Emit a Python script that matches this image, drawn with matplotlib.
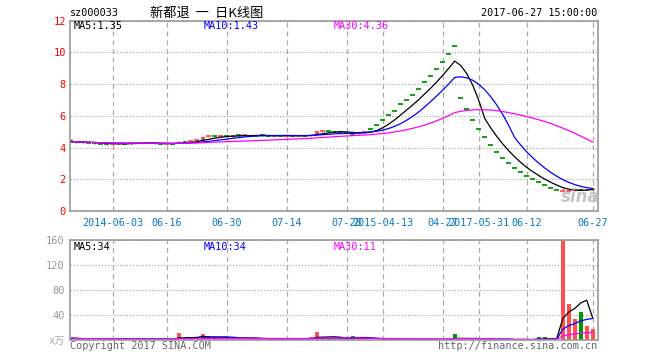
import matplotlib
matplotlib.use('Agg')
import matplotlib.pyplot as plt
import pandas as pd

plt.rcParams['font.family'] = ['DejaVu Sans Mono', 'Noto Sans CJK SC']

# daily bars of sz000033, oldest first (suspended days skipped)
opens = [4.50, 4.34, 4.36, 4.33, 4.30, 4.28, 4.26, 4.22, 4.23, 4.26,
         4.24, 4.30, 4.28, 4.30, 4.29, 4.27, 4.22, 4.26, 4.28, 4.40,
         4.38, 4.44, 4.50, 4.68, 4.74, 4.70, 4.74, 4.64, 4.80, 4.75,
         4.78, 4.74, 4.80, 4.76, 4.75, 4.76, 4.75, 4.76, 4.74, 4.76,
         4.74, 4.84, 5.02, 5.04, 5.02, 4.98, 4.96, 4.92, 4.88, 4.92,
         5.17, 5.44, 5.76, 6.05, 6.32, 6.72, 7.02, 7.33, 7.71, 8.15,
         8.54, 8.96, 9.42, 9.92, 10.43, 7.14, 6.43, 5.76, 5.17, 4.69,
         4.17, 3.75, 3.37, 3.03, 2.74, 2.43, 2.18, 2.03, 1.80, 1.61,
         1.44, 1.30, 1.20, 1.24, 1.30, 1.38, 1.34, 1.36]
highs = [4.52, 4.42, 4.38, 4.36, 4.32, 4.30, 4.28, 4.30, 4.30, 4.28,
         4.30, 4.36, 4.34, 4.32, 4.31, 4.29, 4.28, 4.28, 4.40, 4.42,
         4.48, 4.52, 4.70, 4.78, 4.76, 4.74, 4.76, 4.82, 4.86, 4.80,
         4.80, 4.78, 4.81, 4.78, 4.77, 4.78, 4.78, 4.78, 4.77, 4.78,
         4.86, 5.05, 5.10, 5.06, 5.04, 5.00, 4.98, 4.94, 4.98, 5.02,
         5.17, 5.44, 5.76, 6.05, 6.32, 6.72, 7.02, 7.33, 7.71, 8.15,
         8.54, 8.96, 9.42, 9.92, 10.43, 7.14, 6.43, 5.76, 5.17, 4.69,
         4.17, 3.75, 3.37, 3.03, 2.74, 2.43, 2.18, 2.03, 1.80, 1.61,
         1.44, 1.30, 1.44, 1.36, 1.42, 1.44, 1.44, 1.42]
lows = [4.33, 4.30, 4.30, 4.26, 4.24, 4.22, 4.19, 4.18, 4.20, 4.22,
        4.22, 4.26, 4.26, 4.26, 4.25, 4.20, 4.20, 4.20, 4.26, 4.32,
        4.36, 4.42, 4.48, 4.64, 4.66, 4.66, 4.68, 4.62, 4.72, 4.72,
        4.73, 4.72, 4.76, 4.72, 4.72, 4.73, 4.72, 4.73, 4.72, 4.73,
        4.72, 4.82, 4.98, 4.96, 4.96, 4.94, 4.90, 4.86, 4.86, 4.90,
        5.17, 5.44, 5.76, 6.05, 6.32, 6.72, 7.02, 7.33, 7.71, 8.15,
        8.54, 8.96, 9.42, 9.92, 10.43, 7.14, 6.43, 5.76, 5.17, 4.69,
        4.17, 3.75, 3.37, 3.03, 2.74, 2.43, 2.18, 2.03, 1.80, 1.61,
        1.44, 1.30, 1.17, 1.22, 1.26, 1.30, 1.32, 1.33]
closes = [4.36, 4.36, 4.33, 4.28, 4.27, 4.25, 4.22, 4.24, 4.25, 4.24,
          4.27, 4.28, 4.30, 4.29, 4.27, 4.22, 4.25, 4.23, 4.38, 4.34,
          4.42, 4.46, 4.67, 4.70, 4.71, 4.72, 4.70, 4.77, 4.77, 4.78,
          4.75, 4.76, 4.77, 4.75, 4.76, 4.75, 4.76, 4.74, 4.76, 4.75,
          4.80, 5.02, 5.04, 5.02, 4.98, 4.96, 4.92, 4.88, 4.92, 4.96,
          5.17, 5.44, 5.76, 6.05, 6.32, 6.72, 7.02, 7.33, 7.71, 8.15,
          8.54, 8.96, 9.42, 9.92, 10.43, 7.14, 6.43, 5.76, 5.17, 4.69,
          4.17, 3.75, 3.37, 3.03, 2.74, 2.43, 2.18, 2.03, 1.80, 1.61,
          1.44, 1.30, 1.24, 1.28, 1.34, 1.33, 1.40, 1.38]
# volume in units of 10k shares (x万)
volumes = [3.0, 2.0, 1.5, 2.0, 1.5, 1.5, 2.0, 1.5, 1.5, 1.0,
           1.5, 2.0, 1.5, 1.0, 1.0, 1.5, 1.0, 1.5, 11.0, 3.0,
           2.5, 2.5, 9.6, 7.0, 3.0, 2.0, 2.0, 3.0, 2.5, 1.5,
           1.5, 1.5, 2.0, 1.0, 1.0, 1.0, 1.0, 1.0, 1.0, 1.0,
           5.0, 12.8, 3.0, 2.5, 2.0, 2.0, 2.0, 6.0, 2.5, 2.5,
           0.8, 0.8, 0.8, 0.8, 0.8, 0.8, 0.8, 0.8, 0.8, 0.8,
           0.8, 0.8, 0.8, 0.8, 9.6, 0.8, 0.6, 0.6, 0.6, 0.6,
           0.6, 0.6, 0.6, 0.6, 0.6, 0.6, 0.6, 0.6, 4.3, 4.3,
           0.6, 0.6, 160.0, 57.6, 33.6, 44.8, 22.4, 17.0]

tick_idx = [7, 16, 26, 36, 46, 52, 62, 68, 76, 87]
tick_labels = ['2014-06-03', '06-16', '06-30', '07-14', '07-28',
               '2015-04-13', '04-27', '2017-05-31', '06-12', '06-27']
ma_windows = [5, 10, 30]
ma_colors = ['black', '#0000ff', '#ff00ff']
# last MA values as printed in the legends
price_ma_last = ['1.35', '1.43', '4.36']
vol_ma_last = ['34', '34', '11']

UP = '#ff5050'
DOWN = '#009900'
GRID = '#aaaaaa'

W, H = 660, 360


def px(x, y):
    """pixel position -> figure fraction"""
    return x / W, 1 - y / H


def style_axes(ax):
    for s in ax.spines.values():
        s.set_color('#999999')
        s.set_linewidth(1.2)
    ax.set_xlim(-0.12, len(closes) - 0.12)
    ax.set_xticks(tick_idx)
    ax.grid(axis='x', color=GRID, linestyle=(0, (4, 3)), linewidth=0.9)
    ax.grid(axis='y', color=GRID, linestyle=(0, (1, 1.5)), linewidth=0.9)
    ax.tick_params(length=0)
    ax.set_axisbelow(True)


fig = plt.figure(figsize=(6.6, 3.6), dpi=100)
ax = fig.add_axes([70 / W, 1 - 211 / H, 528 / W, 190.3 / H])
axv = fig.add_axes([70 / W, 1 - 340 / H, 528 / W, 100 / H])

df = pd.DataFrame({'open': opens, 'high': highs, 'low': lows,
                   'close': closes, 'vol': volumes})
colors = [UP if c > o else DOWN for o, c in zip(opens, closes)]

# candles
style_axes(ax)
ax.set_ylim(0, 12)
ax.set_yticks(range(0, 13, 2))
ax.tick_params(axis='y', labelcolor='red', labelsize=7.5, pad=3)
ax.set_xticklabels(tick_labels, color='#0a78c8', fontsize=7.3)
ax.tick_params(axis='x', pad=5)
ax.vlines(df.index, df['low'], df['high'], colors=colors, linewidth=0.9)
for i, r in df.iterrows():
    lo, hi = min(r['open'], r['close']), max(r['open'], r['close'])
    if hi - lo < 0.05:
        ax.hlines(r['close'], i - 0.38, i + 0.38, colors=colors[i], linewidth=1.3)
    else:
        ax.bar(i, hi - lo, bottom=lo, width=0.72, color=colors[i], linewidth=0)
for n, c in zip(ma_windows, ma_colors):
    ax.plot(df.index, df['close'].rolling(n, min_periods=1).mean(), color=c, linewidth=0.9)

# volume
style_axes(axv)
axv.set_ylim(0, 160)
axv.set_yticks([40, 80, 120, 160])
axv.tick_params(axis='y', labelcolor='#999999', labelsize=7.5, pad=4)
axv.set_xticklabels([])
axv.bar(df.index, df['vol'], width=0.72, color=colors, linewidth=0)
for n, c in zip(ma_windows, ma_colors):
    axv.plot(df.index, df['vol'].rolling(n, min_periods=1).mean(), color=c, linewidth=0.9)

# header texts
fig.text(*px(70, 13), 'sz000033', fontsize=7.3, va='center')
fig.text(*px(207, 13), '新都退  一  日K线图', fontsize=9.5, va='center', ha='center',
         family=['Noto Sans CJK SC', 'DejaVu Sans'])
fig.text(*px(597, 13), '2017-06-27 15:00:00', fontsize=7.3, va='center', ha='right')

# MA legends in both panels
for x, n, c, pv, vv in zip([74, 204, 334], ma_windows, ma_colors, price_ma_last, vol_ma_last):
    fig.text(*px(x, 26), 'MA%d:%s' % (n, pv), fontsize=7.3, va='center', color=c)
    fig.text(*px(x, 246.5), 'MA%d:%s' % (n, vv), fontsize=7.3, va='center', color=c)

fig.text(*px(65, 341), 'x万', fontsize=7.3, va='center', ha='right', color='#aaaaaa')
fig.text(*px(70, 346), 'Copyright 2017 SINA.COM', fontsize=7.3, va='center', color='#666666')
fig.text(*px(597, 346), 'http://finance.sina.com.cn', fontsize=7.3, va='center', ha='right', color='#666666')

# sina watermark
fig.text(*px(580, 197), 'sina', fontsize=12, fontweight='bold', style='italic',
         family='DejaVu Sans', color='#bbbbbb', ha='center', va='center', alpha=0.85)

fig.savefig('out.png', dpi=100)
